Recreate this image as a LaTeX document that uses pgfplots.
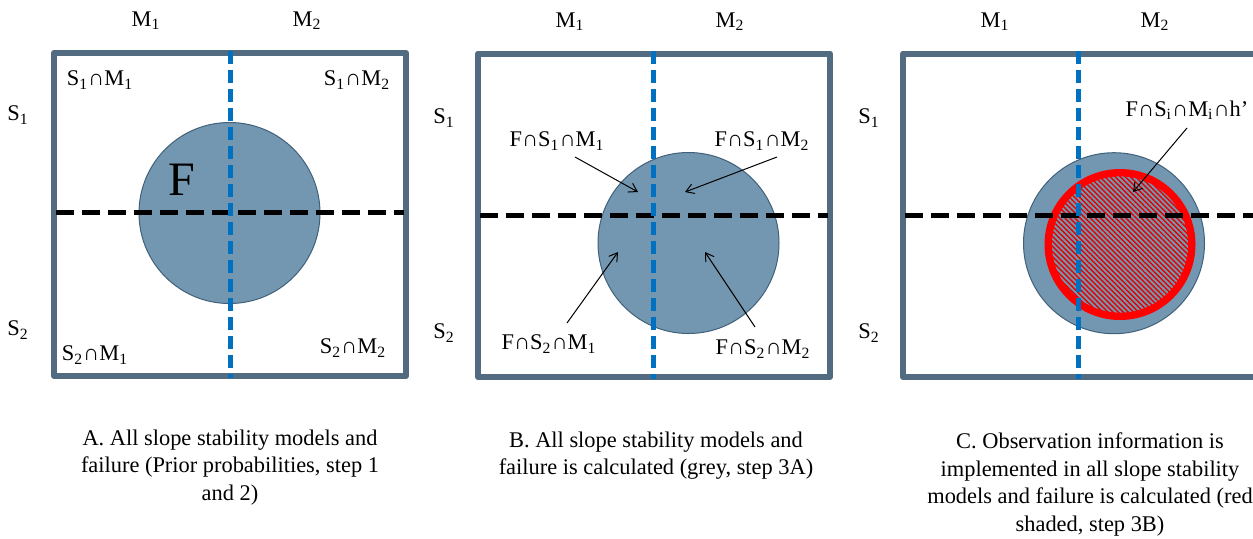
\documentclass[border=0pt]{standalone}
\usepackage{fontspec}
\setmainfont{Liberation Serif}
\usepackage{pgfplots}
\pgfplotsset{compat=1.18}
\usetikzlibrary{arrows.meta,patterns.meta}

\definecolor{boxc}{RGB}{82,107,128}
\definecolor{fcirc}{RGB}{115,151,176}
\definecolor{fedge}{RGB}{65,97,122}
\definecolor{mblue}{RGB}{0,112,192}

\newcommand{\sub}[1]{\textsubscript{#1}}

\begin{document}
\begin{tikzpicture}[every node/.style={inner sep=0pt, font=\fontsize{11.2}{13.75}\selectfont}]
\begin{axis}[
    scale only axis, width=626.5pt, height=269pt,
    xmin=0, xmax=1253, ymin=0, ymax=538, y dir=reverse,
    hide axis, clip marker paths=true,
  ]
  % invisible frame, keeps the page size
  \addplot[draw=none] coordinates {(0,0) (1253,538)};

  % boxes
  \addplot[draw=boxc, line width=3pt, fill=white, line join=round] coordinates {(54,53) (406,53) (406,376) (54,376)} -- cycle;
  \addplot[draw=boxc, line width=3pt, fill=white, line join=round] coordinates {(478,53.5) (830,53.5) (830,377) (478,377)} -- cycle;
  \addplot[draw=boxc, line width=3pt, fill=white, line join=round] coordinates {(903,53.5) (1256,53.5) (1256,377) (903,377)} -- cycle;

  % failure circles F
  \addplot[only marks, mark=*, mark size=45.25pt, mark options={fill=fcirc, draw=fedge, line width=0.5pt}] coordinates {(229.5,213) (688.5,243) (1114,243.2)};
  % observation circle (red, shaded)
  \addplot[only marks, mark=*, mark size=35.9pt, mark options={draw=red, line width=3.7pt,
      pattern={Lines[angle=-45, distance=1.8pt, line width=0.7pt]}, pattern color=red!90!black}] coordinates {(1120,244.5)};

  % S1 / S2 boundaries
  \addplot[black, line width=2.5pt, dash pattern=on 9pt off 4pt] coordinates {(56,212.7) (404,212.7)};
  \addplot[black, line width=2.5pt, dash pattern=on 9pt off 4pt] coordinates {(480,215) (828,215)};
  \addplot[black, line width=2.5pt, dash pattern=on 9pt off 4pt] coordinates {(905,215) (1253,215)};
  % M1 / M2 boundaries
  \addplot[mblue, line width=2.5pt, dash pattern=on 6.5pt off 3pt] coordinates {(230,51) (230,378)};
  \addplot[mblue, line width=2.5pt, dash pattern=on 6.5pt off 3pt] coordinates {(653.3,51) (653.3,379)};
  \addplot[mblue, line width=2.5pt, dash pattern=on 6.5pt off 3pt] coordinates {(1078.3,51) (1078.3,379)};

  % arrows
  \addplot[black, line width=0.5pt, -{Straight Barb[length=4pt, width=5pt]}] coordinates {(575,157) (638,192)};
  \addplot[black, line width=0.5pt, -{Straight Barb[length=4pt, width=5pt]}] coordinates {(777,157) (685,192)};
  \addplot[black, line width=0.5pt, -{Straight Barb[length=4pt, width=5pt]}] coordinates {(567,323) (618,252)};
  \addplot[black, line width=0.5pt, -{Straight Barb[length=4pt, width=5pt]}] coordinates {(755,327) (705,252)};
  \addplot[black, line width=0.5pt, -{Straight Barb[length=4pt, width=5pt]}] coordinates {(1187,128) (1133,192)};

  % panel A labels
  \node at (146,21) {M\sub{1}};
  \node at (307,21) {M\sub{2}};
  \node at (18,115) {S\sub{1}};
  \node at (18,330) {S\sub{2}};
  \node at (100,80) {S\sub{1}∩M\sub{1}};
  \node at (357,80) {S\sub{1}∩M\sub{2}};
  \node at (95,355) {S\sub{2}∩M\sub{1}};
  \node at (353,348) {S\sub{2}∩M\sub{2}};
  \node[font=\fontsize{24}{28}\selectfont] at (182,180) {F};

  % panel B labels
  \node at (570,22) {M\sub{1}};
  \node at (730,22) {M\sub{2}};
  \node at (444,118) {S\sub{1}};
  \node at (444,333) {S\sub{2}};
  \node at (557,141) {F∩S\sub{1}∩M\sub{1}};
  \node at (762,141) {F∩S\sub{1}∩M\sub{2}};
  \node at (549,344) {F∩S\sub{2}∩M\sub{1}};
  \node at (763,349) {F∩S\sub{2}∩M\sub{2}};

  % panel C labels
  \node at (995,22) {M\sub{1}};
  \node at (1155,22) {M\sub{2}};
  \node at (869,118) {S\sub{1}};
  \node at (869,333) {S\sub{2}};
  \node at (1187,110) {F∩S\sub{i}∩M\sub{i}∩h’};

  % captions
  \node[anchor=north, align=center] at (230,429.5) {A. All slope stability models and\\failure (Prior probabilities, step 1\\and 2)};
  \node[anchor=north, align=center] at (656,431.5) {B. All slope stability models and\\failure is calculated (grey, step 3A)};
  \node[anchor=north, align=center] at (1090,432.5) {C. Observation information is\\implemented in all slope stability\\models and failure is calculated (red\\shaded, step 3B)};
\end{axis}
\end{tikzpicture}
\end{document}
